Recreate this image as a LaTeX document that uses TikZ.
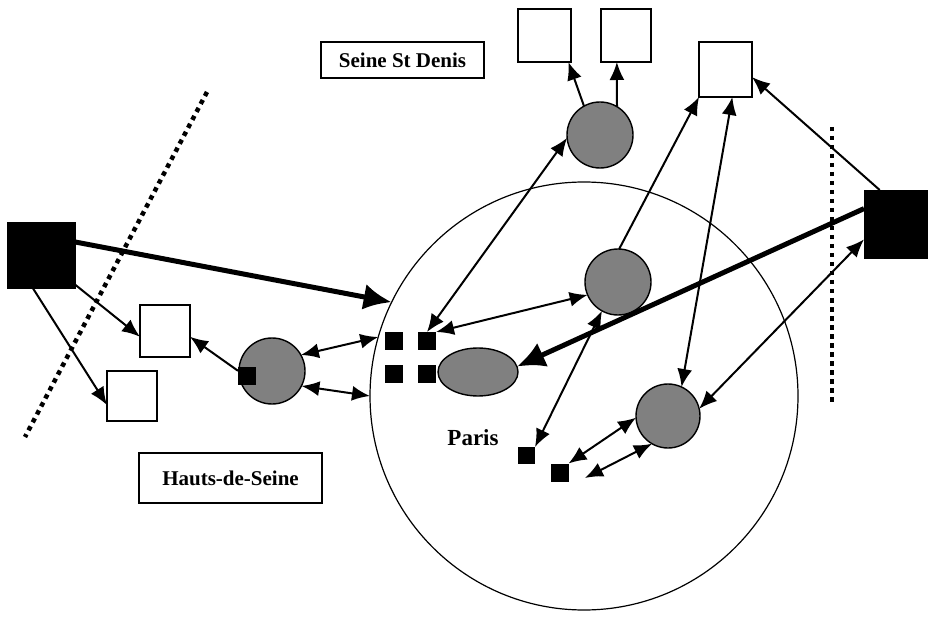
\documentclass[tikz,border=0pt]{standalone}
\usepackage{fontspec}
\setmainfont{Liberation Serif}
\usetikzlibrary{arrows.meta,shapes.geometric}
\begin{document}
\begin{tikzpicture}[x=1pt,y=-1pt,
  blacksq/.style={rectangle,fill=black,draw=black,inner sep=0pt,outer sep=0pt},
  whitesq/.style={rectangle,fill=white,draw=black,line width=1.3pt,inner sep=0pt,outer sep=0pt},
  tinysq/.style={rectangle,fill=black,inner sep=0pt,outer sep=0pt,minimum size=18pt},
  hatch/.style={circle,draw=black,line width=1.4pt,fill=black!50,inner sep=0pt,outer sep=0pt,minimum size=66pt},
  lbl/.style={rectangle,draw=black,line width=1.3pt,fill=white,inner sep=0pt,font=\bfseries\fontsize{21}{25}\selectfont},
  conn/.style={line width=2pt,-{Latex[length=18pt,width=15pt]}},
  dbl/.style={line width=2pt,{Latex[length=18pt,width=15pt]}-{Latex[length=18pt,width=15pt]}},
  heavy/.style={line width=5pt,-{Latex[length=28pt,width=26pt]}},
  dotline/.style={line width=4.5pt,dash pattern=on 4.5pt off 4.5pt}]
\useasboundingbox (0,0) rectangle (928,617);
% big Paris circle
\node[circle,draw=black,line width=1.2pt,minimum size=428pt,inner sep=0pt,outer sep=0pt] (big) at (584,396) {};
% dotted boundaries
\coordinate (d1a) at (207,92);
\coordinate (d1b) at (25,437);
\coordinate (d2a) at (832,127);
\coordinate (d2b) at (832,403);
\draw[dotline] (d1a) -- (d1b);
\draw[dotline] (d2a) -- (d2b);
% labels
\node[lbl,minimum width=163pt,minimum height=36pt] (ssd) at (402.5,60) {Seine St Denis};
\node[lbl,minimum width=183pt,minimum height=50pt] (hds) at (230.5,478) {Hauts-de-Seine};
\node[font=\bfseries\fontsize{23}{27}\selectfont,inner sep=0pt] (paris) at (473,438) {Paris};
% big black squares
\node[blacksq,minimum width=68pt,minimum height=66pt] (Lsq) at (41,255) {};
\node[blacksq,minimum width=66pt,minimum height=68pt] (Rsq) at (897,224) {};
% white squares
\node[whitesq,minimum width=50pt,minimum height=52pt] (A) at (165,331) {};
\node[whitesq,minimum width=50pt,minimum height=50pt] (B) at (132,396) {};
\node[whitesq,minimum width=53pt,minimum height=53pt] (T1) at (544.5,35.5) {};
\node[whitesq,minimum width=50pt,minimum height=53pt] (T2) at (626,35.5) {};
\node[whitesq,minimum width=53pt,minimum height=55pt] (T3) at (725.5,69.5) {};
% hatched circles
\node[hatch] (hL) at (272,371) {};
\node[hatch] (hS) at (600,135) {};
\node[hatch] (hM) at (618,282) {};
\node[hatch,minimum size=64pt] (hR) at (668,416) {};
\node[ellipse,draw=black,line width=1.4pt,fill=black!50,inner sep=0pt,outer sep=0pt,minimum width=80pt,minimum height=48pt] (E) at (478,372) {};
% small black squares
\node[tinysq] (sqh) at (247,376) {};
\node[tinysq] (s1) at (394,341) {};
\node[tinysq] (s2) at (427,341) {};
\node[tinysq] (s3) at (394,374) {};
\node[tinysq] (s4) at (427,374) {};
\node[tinysq,minimum size=17pt] (P1) at (526.5,455.5) {};
\node[tinysq,minimum size=18pt] (P2) at (559.5,472.5) {};
\coordinate (f1) at (585,478);
% connectors, left
\draw[heavy] (Lsq.21) -- (big.154);
\draw[conn] (Lsq.-41) -- (A.193);
\draw[conn] (Lsq.256) -- (B.200);
\draw[conn] (sqh.150) -- (A.-13);
\draw[dbl] (hL.29) -- (big.164);
\draw[dbl] (hL.-27) -- (big.180);
% connectors, centre
\draw[dbl] (s2.north) -- (hS.185);
\draw[dbl] (s2.north east) -- (hM.203);
\draw[conn] (hS.119) -- (T1.-48);
\draw[conn] (hS.59) -- (T2.251);
\draw[conn] (hM.88) -- (T3.south west);
\draw[dbl] (T3.-76) -- (hR.65);
\draw[dbl] (hM.241) -- (P1.north east);
\draw[dbl] (P2.north east) -- (hR.183);
\draw[dbl] (f1) -- (hR.240);
% connectors, right
\draw[conn] (Rsq.117) -- (T3.-16);
\draw[heavy] (Rsq.155) -- (E.8);
\draw[dbl] (Rsq.205) -- (hR.13);
\end{tikzpicture}
\end{document}
